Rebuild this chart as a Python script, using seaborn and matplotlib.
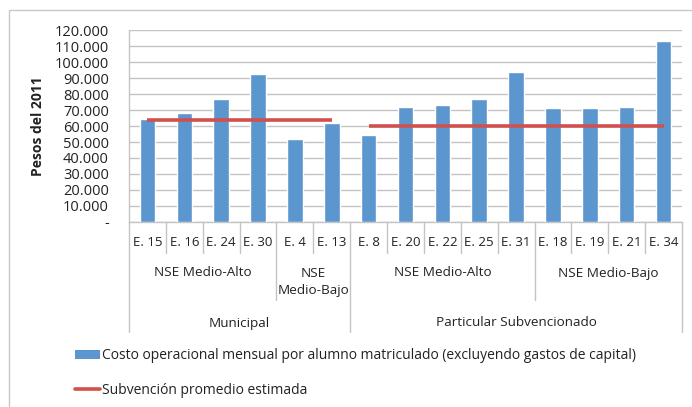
import matplotlib
matplotlib.use("Agg")
import matplotlib.pyplot as plt
import matplotlib.transforms as mtransforms
from matplotlib.patches import Patch, Rectangle
from matplotlib.lines import Line2D
import seaborn as sns

# data
schools = ['E. 15', 'E. 16', 'E. 24', 'E. 30', 'E. 4', 'E. 13',
           'E. 8', 'E. 20', 'E. 22', 'E. 25', 'E. 31',
           'E. 18', 'E. 19', 'E. 21', 'E. 34']
cost = [64600, 68100, 77100, 92500, 51900, 61700,
        54200, 71700, 72900, 77100, 93500,
        71000, 71000, 71700, 112900]
subgroups = ['NSE Medio-Alto', 'NSE\nMedio-Bajo', 'NSE Medio-Alto', 'NSE Medio-Bajo']
subgroup_sizes = [4, 2, 5, 4]
groups = ['Municipal', 'Particular Subvencionado']
group_sizes = [6, 9]
subsidy = [63750, 60000]

blue = '#5B96CF'
red = '#D0504D'
grid = '#C4C4C4'
txt = '#222222'

sns.set_style('white')
plt.rcParams['font.family'] = ['Open Sans', 'DejaVu Sans']
plt.rcParams['font.size'] = 9.5

fig = plt.figure(figsize=(6.92, 4.07), dpi=100)
ax = fig.add_axes([129 / 692, 1 - 222 / 407, 553 / 692, 192 / 407])

sns.barplot(x=schools, y=cost, color=blue, saturation=1, width=0.42, ax=ax, zorder=3)

# subsidy lines, one per group, spanning the group's categories
start = 0
for n, val in zip(group_sizes, subsidy):
    ax.plot([start, start + n - 1], [val, val], color=red, lw=2.6, zorder=4,
            solid_capstyle='butt')
    start += n

ax.set_xlim(-0.5, len(schools) - 0.5)
ax.set_ylim(0, 120000)
ax.set_yticks(range(0, 120001, 10000))
ax.set_yticklabels(['-'] + [f'{v:,}'.replace(',', '.') for v in range(10000, 120001, 10000)])
ax.yaxis.grid(True, color=grid, lw=1, zorder=0)
ax.tick_params(axis='y', length=5, width=1, color=grid, pad=9.5, labelsize=10.5, labelcolor=txt)
ax.tick_params(axis='x', length=0, labelbottom=False)
for s in ['top', 'right']:
    ax.spines[s].set_visible(False)
for s in ['left', 'bottom']:
    ax.spines[s].set_color(grid)
    ax.spines[s].set_linewidth(1)

ax.set_xlabel('')
ax.set_ylabel('Pesos del 2011', fontsize=10, fontweight='bold', color=txt)
ax.yaxis.set_label_coords((45 - 129) / 553, 0.5)

# hierarchical category axis
tr = mtransforms.blended_transform_factory(ax.transData, fig.transFigure)
def fy(px):
    return 1 - px / 407

for i, s in enumerate(schools):
    ax.text(i, fy(243), s, transform=tr, ha='center', va='center', fontsize=9.5, color=txt)

sub_bounds = []
start = 0
for lab, n in zip(subgroups, subgroup_sizes):
    ax.text(start + (n - 1) / 2, fy(282) if '\n' in lab else fy(273), lab, transform=tr,
            ha='center', va='center', fontsize=9.7, color=txt, linespacing=1.35)
    start += n
    sub_bounds.append(start - 0.5)

grp_bounds = [-0.5]
start = 0
for lab, n in zip(groups, group_sizes):
    ax.text(start + (n - 1) / 2, fy(323), lab, transform=tr, ha='center', va='center',
            fontsize=9.7, color=txt)
    start += n
    grp_bounds.append(start - 0.5)

for b in [i + 0.5 for i in range(len(schools) - 1)]:
    if b in grp_bounds:
        bottom = 332
    elif b in sub_bounds:
        bottom = 300
    else:
        bottom = 253
    ax.plot([b, b], [fy(222), fy(bottom)], transform=tr, color=grid, lw=1, clip_on=False)
for b in grp_bounds[::len(grp_bounds) - 1]:
    ax.plot([b, b], [fy(222), fy(332)], transform=tr, color=grid, lw=1, clip_on=False)

# legend
handles = [Patch(facecolor=blue, edgecolor='none'),
           Line2D([], [], color=red, lw=2.6)]
labels = ['Costo operacional mensual por alumno matriculado (excluyendo gastos de capital)',
          'Subvención promedio estimada']
fig.legend(handles, labels, loc='upper left', bbox_to_anchor=(75 / 692, fy(348)),
           frameon=False, borderpad=0, borderaxespad=0, handlelength=1.8,
           handleheight=0.6, handletextpad=0.15, labelspacing=1.45, fontsize=10,
           labelcolor=txt)

# outer chart frame
fig.add_artist(Rectangle((9 / 692, -0.1), 1.2, 1.1 - 10 / 407, transform=fig.transFigure,
                         fill=False, edgecolor='#C8C8C8', lw=1))

fig.savefig('out.png', dpi=100)
